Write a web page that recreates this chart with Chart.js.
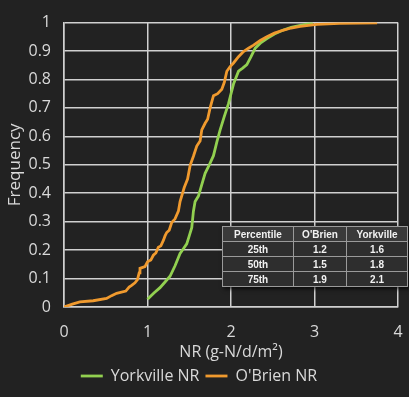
<!DOCTYPE html>
<html>
<head>
<meta charset="utf-8">
<script src="https://cdn.jsdelivr.net/npm/chart.js@4"></script>
<style>
  html, body { margin: 0; padding: 0; background: #222222; }
  #wrap { position: relative; width: 409px; height: 397px; }
  #stats {
    position: absolute; left: 222px; top: 226px; width: 186px;
    border-collapse: collapse; background: #2e2e2e;
    box-shadow: 2px 2px 4px rgba(0,0,0,.7);
    font: bold 10px "Liberation Sans Narrow", "Liberation Sans", sans-serif;
    color: #f2f2f2; text-align: center;
  }
  #stats td, #stats th { border: 1px solid #9a9a9a; height: 14px; padding: 0; font-weight: bold; }
  #stats th { background: #3a3a3a; }
</style>
</head>
<body>
<div id="wrap">
  <canvas id="cdf" width="409" height="397"></canvas>
  <table id="stats"></table>
</div>
<script>
(() => {
  // O'Brien NR cumulative distribution
  const obrienX = [0, 0.1, 0.19, 0.35, 0.51, 0.57, 0.63, 0.74, 0.78, 0.81, 0.85, 0.88, 0.9, 0.91, 0.97, 1.0, 1.04, 1.07, 1.1, 1.13, 1.16, 1.19, 1.21, 1.23, 1.26, 1.29, 1.33, 1.37, 1.39, 1.44, 1.48, 1.51, 1.55, 1.59, 1.63, 1.65, 1.69, 1.72, 1.75, 1.79, 1.84, 1.89, 1.92, 1.95, 1.99, 2.03, 2.09, 2.15, 2.21, 2.27, 2.35, 2.43, 2.52, 2.62, 2.72, 2.83, 3.03, 3.3, 3.75];
  const obrienY = [0, 0.01, 0.018, 0.022, 0.03, 0.04, 0.048, 0.056, 0.07, 0.076, 0.085, 0.096, 0.12, 0.136, 0.142, 0.159, 0.165, 0.182, 0.19, 0.21, 0.215, 0.234, 0.25, 0.262, 0.27, 0.297, 0.31, 0.337, 0.371, 0.42, 0.45, 0.497, 0.53, 0.566, 0.584, 0.623, 0.646, 0.66, 0.7, 0.743, 0.75, 0.766, 0.79, 0.829, 0.845, 0.858, 0.88, 0.898, 0.91, 0.921, 0.937, 0.95, 0.963, 0.973, 0.981, 0.987, 0.994, 0.997, 0.999];

  // Yorkville NR cumulative distribution
  const yorkX = [1.0, 1.08, 1.15, 1.21, 1.27, 1.33, 1.39, 1.43, 1.47, 1.5, 1.53, 1.55, 1.57, 1.61, 1.65, 1.69, 1.74, 1.79, 1.83, 1.87, 1.92, 1.97, 2.03, 2.09, 2.14, 2.19, 2.24, 2.29, 2.36, 2.43, 2.52, 2.62, 2.72, 2.83, 2.98];
  const yorkY = [0.027, 0.05, 0.068, 0.088, 0.108, 0.145, 0.188, 0.205, 0.222, 0.25, 0.279, 0.337, 0.371, 0.39, 0.43, 0.47, 0.5, 0.532, 0.58, 0.623, 0.67, 0.715, 0.784, 0.829, 0.84, 0.852, 0.88, 0.91, 0.93, 0.944, 0.96, 0.973, 0.983, 0.99, 0.999];

  const tableHead = ["Percentile", "O'Brien", "Yorkville"];
  const percentiles = ["25th", "50th", "75th"];
  const obrienPct = ["1.2", "1.5", "1.9"];
  const yorkPct = ["1.6", "1.8", "2.1"];

  const tbl = document.getElementById("stats");
  let html = "<tr>" + tableHead.map(h => "<th>" + h + "</th>").join("") + "</tr>";
  percentiles.forEach((p, i) => {
    html += "<tr><td>" + p + "</td><td>" + obrienPct[i] + "</td><td>" + yorkPct[i] + "</td></tr>";
  });
  tbl.innerHTML = html;

  const toPts = (xs, ys) => xs.map((x, i) => ({ x, y: ys[i] }));

  const txt = "#d9d9d9";
  const gridCol = "#d0d0d0";
  const font = "'Open Sans', 'DejaVu Sans', sans-serif";

  new Chart(document.getElementById("cdf"), {
    type: "line",
    data: {
      datasets: [
        {
          label: "Yorkville NR",
          data: toPts(yorkX, yorkY),
          borderColor: "#92d050",
          backgroundColor: "#92d050",
          borderWidth: 2.8,
          pointRadius: 0,
          tension: 0,
          order: 1
        },
        {
          label: "O'Brien NR",
          data: toPts(obrienX, obrienY),
          borderColor: "#f09a2e",
          backgroundColor: "#f09a2e",
          borderWidth: 2.8,
          pointRadius: 0,
          tension: 0,
          order: 0
        }
      ]
    },
    options: {
      responsive: false,
      animation: false,
      layout: { padding: { left: 0, right: 11, top: 17, bottom: 3 } },
      plugins: {
        tooltip: { enabled: false },
        legend: {
          position: "bottom",
          labels: {
            color: txt,
            font: { family: font, size: 16 },
            usePointStyle: true,
            pointStyle: "line",
            pointStyleWidth: 22,
            padding: 6,
            sort: (a, b) => a.datasetIndex - b.datasetIndex
          }
        }
      },
      scales: {
        x: {
          type: "linear",
          min: 0,
          max: 4,
          ticks: { stepSize: 1, color: txt, font: { family: font, size: 16 }, padding: 16 },
          grid: { color: gridCol, lineWidth: 1.5, drawTicks: false },
          border: { color: gridCol, width: 1.5 },
          title: { display: true, text: "NR (g-N/d/m²)", color: txt, font: { family: font, size: 16 }, padding: 0 },
          afterFit: scale => {
            scale.height = 55;
            scale.paddingLeft = 0;
            scale.paddingRight = 0;
          }
        },
        y: {
          min: 0,
          max: 1,
          ticks: {
            stepSize: 0.1,
            color: txt,
            font: { family: font, size: 16 },
            padding: 13,
            callback: v => String(+v.toFixed(1))
          },
          grid: { color: gridCol, lineWidth: 1.5, drawTicks: false },
          border: { color: gridCol, width: 1.5 },
          title: { display: true, text: "Frequency", color: txt, font: { family: font, size: 17 }, padding: { top: 5, bottom: 0 } },
          afterFit: scale => { scale.width = 64; }
        }
      }
    }
  });
})();
</script>
</body>
</html>
